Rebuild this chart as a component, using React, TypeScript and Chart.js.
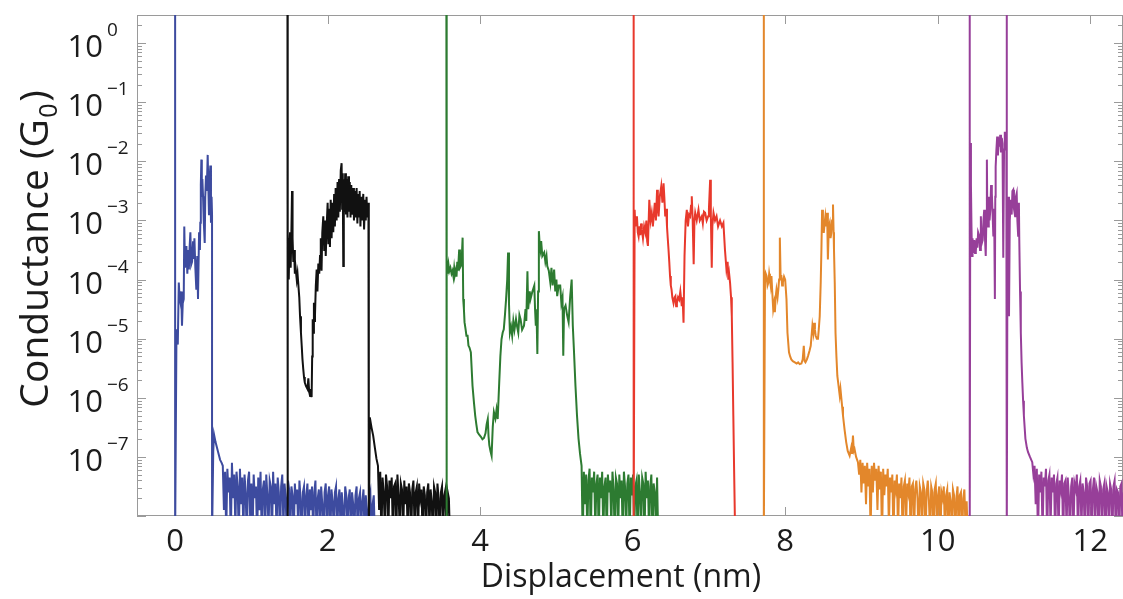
import React, { useEffect, useRef } from "react";
import { Chart, registerables } from "chart.js";

Chart.register(...registerables);

// ---------- axis settings ----------
const X_MIN = -0.5;
const X_MAX = 12.43;
const Y_MIN = 1e-8;
const Y_MAX = 3;
const xTickValues = [0, 2, 4, 6, 8, 10, 12];
const xTickLabels = ["0", "2", "4", "6", "8", "10", "12"];
const yTickExponents = [0, -1, -2, -3, -4, -5, -6, -7];
const xAxisTitle = "Displacement (nm)";
const yAxisTitleParts = ["Conductance (G", "0", ")"];

// ---------- traces: [displacement (nm), log10 conductance (G0)] ----------
const blueTrace: [number, number][] = [
  [0, 0.8], [0, -8.4], [0.017, -5.0], [0.026, -4.84], [0.035, -5.1], [0.048, -4.05], [0.058, -4.3], [0.07, -4.39],
  [0.08, -4.2], [0.09, -4.78], [0.1, -4.4], [0.113, -4.33], [0.12, -3.1], [0.13, -3.8], [0.148, -3.43], [0.16, -3.9],
  [0.17, -3.5], [0.18, -3.83], [0.19, -3.45], [0.2, -3.2], [0.21, -3.75], [0.222, -3.7], [0.235, -3.35], [0.245, -3.65],
  [0.253, -3.3], [0.265, -3.8], [0.278, -4.17], [0.29, -3.6], [0.3, -4.33], [0.314, -3.2], [0.325, -3.5], [0.33, -3.04],
  [0.337, -2.4], [0.344, -1.97], [0.35, -2.6], [0.357, -2.3], [0.366, -2.59], [0.375, -3.0], [0.388, -3.38], [0.395, -2.6],
  [0.405, -2.24], [0.415, -2.5], [0.427, -1.89], [0.435, -2.4], [0.444, -2.91], [0.452, -2.3], [0.462, -2.07], [0.47, -3.04],
  [0.478, -2.6], [0.484, -2.9], [0.484, -8.4], [0.5, -6.9], [0.51, -6.62], [0.53, -6.75], [0.56, -6.9], [0.59, -7.05],
  [0.61, -7.1],
];

const blackTrace: [number, number][] = [
  [1.473, 0.8], [1.473, -8.4], [1.48, -3.9], [1.486, -3.3], [1.49, -4.0], [1.497, -3.5], [1.507, -3.2], [1.515, -3.8],
  [1.522, -3.4], [1.533, -2.5], [1.54, -3.3], [1.55, -3.7], [1.56, -3.5], [1.57, -3.9], [1.58, -3.8], [1.595, -4.0],
  [1.605, -3.9], [1.617, -4.11], [1.628, -4.3], [1.638, -4.62], [1.65, -4.9], [1.66, -5.12], [1.67, -5.35], [1.68, -5.51],
  [1.69, -5.65], [1.7, -5.74], [1.715, -5.8], [1.735, -5.85], [1.747, -5.67], [1.758, -5.9], [1.77, -5.97], [1.78, -5.85],
  [1.79, -5.99], [1.797, -5.3], [1.804, -4.67], [1.812, -4.9], [1.82, -4.39], [1.827, -4.7], [1.834, -4.6], [1.845, -4.1],
  [1.856, -3.83], [1.866, -4.2], [1.878, -3.73], [1.89, -3.9], [1.9, -3.6], [1.91, -3.3], [1.92, -3.85], [1.93, -3.2],
  [1.943, -2.93], [1.955, -3.5], [1.965, -3.0], [1.975, -3.6], [1.987, -3.1], [2.0, -2.7], [2.01, -3.4], [2.02, -2.8],
  [2.03, -3.45], [2.04, -2.65], [2.052, -3.3], [2.064, -2.7], [2.074, -3.2], [2.085, -2.55], [2.095, -3.1], [2.105, -2.45],
  [2.118, -3.0], [2.13, -2.35], [2.14, -2.95], [2.15, -2.3], [2.16, -2.85], [2.172, -2.15], [2.183, -2.03], [2.19, -2.8],
  [2.198, -2.2], [2.205, -3.77], [2.212, -2.3], [2.22, -2.85], [2.23, -2.2], [2.24, -2.9], [2.25, -2.3], [2.26, -2.95],
  [2.27, -2.25], [2.28, -2.85], [2.29, -2.35], [2.3, -2.95], [2.31, -2.4], [2.32, -2.9], [2.336, -2.45], [2.345, -3.0],
  [2.355, -2.5], [2.365, -2.95], [2.38, -2.45], [2.39, -3.05], [2.4, -2.55], [2.41, -2.95], [2.42, -2.5], [2.43, -3.1],
  [2.44, -2.6], [2.455, -3.0], [2.467, -2.55], [2.478, -3.15], [2.49, -2.65], [2.5, -3.0], [2.51, -2.6], [2.52, -2.95],
  [2.535, -2.7], [2.54, -8.4], [2.553, -6.33], [2.575, -6.5], [2.597, -6.64], [2.62, -6.85], [2.64, -7.03], [2.66, -7.15],
];

const greenTrace: [number, number][] = [
  [3.557, 0.8], [3.557, -8.4], [3.565, -3.63], [3.573, -3.9], [3.585, -3.75], [3.595, -3.86], [3.61, -3.8], [3.625, -3.9],
  [3.638, -3.85], [3.65, -3.95], [3.66, -3.8], [3.67, -3.91], [3.68, -3.85], [3.69, -3.95], [3.7, -3.7], [3.71, -3.85],
  [3.725, -3.49], [3.735, -3.8], [3.747, -3.77], [3.76, -3.6], [3.77, -3.29], [3.778, -4.33], [3.787, -4.5], [3.795, -4.72],
  [3.81, -4.85], [3.82, -4.95], [3.835, -4.95], [3.847, -5.12], [3.86, -5.15], [3.878, -5.23], [3.9, -5.8], [3.92, -6.1],
  [3.935, -6.3], [3.95, -6.45], [3.965, -6.58], [3.985, -6.62], [4.01, -6.66], [4.03, -6.7], [4.05, -6.68], [4.07, -6.6],
  [4.085, -6.45], [4.1, -6.36], [4.11, -6.65], [4.12, -6.8], [4.135, -6.9], [4.15, -6.98], [4.165, -6.5], [4.18, -6.24],
  [4.2, -6.35], [4.215, -6.2], [4.23, -6.36], [4.25, -5.74], [4.265, -5.3], [4.28, -5.01], [4.295, -4.9], [4.31, -4.84],
  [4.325, -4.6], [4.34, -4.33], [4.355, -4.0], [4.366, -3.54], [4.378, -4.4], [4.39, -4.9], [4.405, -4.8], [4.42, -4.95],
  [4.435, -4.7], [4.45, -4.85], [4.47, -4.67], [4.485, -4.8], [4.5, -4.9], [4.515, -4.6], [4.53, -4.67], [4.55, -4.85],
  [4.575, -4.78], [4.595, -4.5], [4.605, -4.7], [4.62, -3.86], [4.63, -4.5], [4.64, -4.5], [4.65, -4.2], [4.66, -4.33],
  [4.685, -4.2], [4.71, -4.1], [4.72, -4.5], [4.73, -4.78], [4.74, -4.6], [4.75, -5.26], [4.76, -4.2], [4.77, -3.18],
  [4.78, -3.4], [4.79, -3.49], [4.8, -3.35], [4.815, -3.6], [4.84, -3.54], [4.855, -3.7], [4.87, -3.6], [4.88, -3.77],
  [4.9, -3.85], [4.92, -4.05], [4.935, -3.8], [4.95, -4.1], [4.97, -3.83], [4.985, -4.2], [5.0, -4.0], [5.01, -4.28],
  [5.03, -4.1], [5.05, -4.1], [5.065, -4.4], [5.08, -4.3], [5.09, -5.29], [5.1, -4.5], [5.12, -4.44], [5.14, -4.6],
  [5.16, -4.72], [5.18, -4.3], [5.2, -4.0], [5.215, -4.78], [5.23, -5.2], [5.25, -5.8], [5.27, -6.3], [5.29, -6.69],
  [5.31, -6.95], [5.33, -7.15],
];

const redTrace: [number, number][] = [
  [6.013, 0.8], [6.013, -8.4], [6.026, -2.82], [6.035, -3.1], [6.045, -3.0], [6.056, -2.93], [6.067, -3.2], [6.078, -3.27],
  [6.09, -3.1], [6.1, -3.25], [6.11, -3.05], [6.12, -3.15], [6.135, -3.3], [6.15, -3.1], [6.166, -3.2], [6.18, -3.0],
  [6.19, -3.35], [6.2, -3.43], [6.218, -2.65], [6.235, -3.0], [6.25, -2.87], [6.265, -3.1], [6.29, -2.7], [6.305, -3.0],
  [6.32, -2.48], [6.33, -2.8], [6.34, -2.93], [6.355, -2.6], [6.375, -2.42], [6.39, -2.7], [6.405, -2.37], [6.415, -2.6],
  [6.427, -2.93], [6.44, -2.8], [6.45, -3.1], [6.46, -3.3], [6.47, -3.49], [6.48, -3.7], [6.49, -3.94], [6.5, -4.1],
  [6.51, -4.17], [6.52, -4.3], [6.536, -4.4], [6.55, -4.3], [6.56, -4.28], [6.57, -4.45], [6.58, -4.4], [6.595, -4.3],
  [6.61, -4.34], [6.625, -4.2], [6.644, -4.45], [6.655, -4.3], [6.667, -4.73], [6.68, -3.6], [6.695, -3.0], [6.71, -2.82],
  [6.725, -3.1], [6.74, -2.9], [6.754, -2.93], [6.765, -2.75], [6.775, -2.59], [6.787, -3.0], [6.8, -3.74], [6.81, -3.0],
  [6.82, -2.87], [6.84, -3.0], [6.863, -2.82], [6.88, -3.0], [6.906, -2.93], [6.92, -3.05], [6.935, -2.85], [6.95, -2.87],
  [6.97, -3.0], [6.99, -2.93], [7.0, -2.8], [7.016, -2.31], [7.025, -2.9], [7.037, -3.8], [7.045, -3.1], [7.06, -2.87],
  [7.08, -3.0], [7.1, -2.93], [7.12, -3.1], [7.146, -3.0], [7.17, -3.1], [7.19, -3.04], [7.21, -3.49], [7.23, -3.83],
  [7.245, -3.7], [7.255, -4.0], [7.265, -3.9], [7.277, -4.05], [7.29, -4.3], [7.3, -4.62], [7.31, -5.4], [7.32, -6.3],
  [7.33, -7.2], [7.345, -8.4],
];

const orangeTrace: [number, number][] = [
  [7.72, 0.8], [7.72, -8.4], [7.735, -4.05], [7.745, -3.9], [7.756, -3.94], [7.768, -4.1], [7.78, -4.05], [7.79, -3.9],
  [7.8, -4.0], [7.81, -4.1], [7.82, -3.94], [7.83, -4.2], [7.843, -4.5], [7.855, -4.4], [7.865, -4.55], [7.875, -4.3],
  [7.886, -4.17], [7.9, -4.3], [7.91, -4.17], [7.92, -4.0], [7.93, -3.29], [7.94, -3.94], [7.95, -3.94], [7.96, -4.1],
  [7.97, -4.05], [7.985, -3.95], [8.0, -4.0], [8.017, -4.33], [8.03, -4.9], [8.05, -5.23], [8.065, -5.3], [8.08, -5.35],
  [8.1, -5.38], [8.127, -5.4], [8.15, -5.42], [8.17, -5.4], [8.19, -5.43], [8.213, -5.42], [8.23, -5.35], [8.244, -5.12],
  [8.255, -5.38], [8.266, -5.4], [8.285, -5.35], [8.3, -5.29], [8.32, -5.2], [8.335, -5.12], [8.357, -4.78], [8.37, -4.9],
  [8.38, -4.73], [8.39, -4.85], [8.4, -4.95], [8.415, -5.0], [8.43, -5.0], [8.44, -4.85], [8.453, -4.62], [8.466, -4.05],
  [8.475, -3.5], [8.484, -2.82], [8.495, -3.0], [8.506, -3.21], [8.517, -3.05], [8.527, -2.93], [8.54, -3.1], [8.55, -2.87],
  [8.56, -3.66], [8.572, -3.1], [8.584, -3.04], [8.595, -3.3], [8.605, -3.21], [8.615, -3.0], [8.627, -2.73], [8.635, -3.2],
  [8.64, -3.49], [8.65, -4.05], [8.66, -4.9], [8.672, -5.3], [8.684, -5.63], [8.7, -5.8], [8.715, -5.96], [8.725, -5.85],
  [8.736, -6.0], [8.747, -6.15], [8.758, -6.3], [8.78, -6.55], [8.8, -6.75], [8.82, -6.9], [8.845, -6.98], [8.865, -6.85],
  [8.875, -6.95], [8.889, -6.64], [8.9, -6.9], [8.91, -6.87], [8.93, -7.0], [8.954, -7.09],
];

const purpleTrace: [number, number][] = [
  [10.42, 0.8], [10.42, -8.4], [10.428, -1.69], [10.436, -2.4], [10.443, -3.1], [10.45, -3.6], [10.457, -3.3], [10.465, -3.55],
  [10.48, -3.33], [10.49, -3.55], [10.5, -3.52], [10.51, -3.3], [10.52, -3.46], [10.53, -3.2], [10.545, -3.26], [10.555, -3.5],
  [10.566, -2.93], [10.575, -3.4], [10.59, -3.33], [10.6, -3.0], [10.61, -2.82], [10.62, -3.3], [10.63, -3.6], [10.638, -3.0],
  [10.645, -1.97], [10.652, -3.1], [10.66, -3.1], [10.67, -2.6], [10.68, -3.0], [10.69, -2.82], [10.7, -2.4], [10.71, -2.54],
  [10.72, -2.9], [10.73, -3.27], [10.74, -2.8], [10.75, -4.33], [10.755, -2.6], [10.76, -2.09], [10.77, -1.8], [10.78, -1.58],
  [10.79, -1.9], [10.8, -1.6], [10.81, -1.75], [10.82, -1.55], [10.83, -1.85], [10.84, -1.6], [10.85, -1.7], [10.86, -3.63],
  [10.87, -1.8], [10.88, -1.5], [10.89, -1.6], [10.9, -1.5], [10.906, 0.8], [10.906, -8.4], [10.915, -3.26], [10.925, -2.6],
  [10.935, -4.62], [10.945, -3.0], [10.96, -2.65], [10.97, -2.9], [10.98, -2.5], [10.99, -2.48], [11.0, -2.8], [11.015, -2.93],
  [11.025, -2.6], [11.036, -2.54], [11.045, -3.0], [11.055, -3.26], [11.065, -2.7], [11.07, -3.33], [11.08, -4.2], [11.09, -4.9],
  [11.1, -5.4], [11.11, -5.74], [11.12, -6.05], [11.13, -6.3], [11.15, -6.69], [11.17, -6.85], [11.185, -6.92], [11.21, -7.0],
  [11.24, -7.09],
];

// ---------- baseline noise tails: log10 conductance, sampled every NOISE_STEP nm from the given start ----------
const NOISE_STEP = 0.015;
const blueNoiseStart = 0.625;
const blueNoise = [
  -7.15, -7.9, -7.25, -8.3, -7.2, -7.6, -7.35, -8.4, -7.1, -7.7, -7.3, -8.2, -7.25, -7.5, -8.4, -7.2, -7.8, -7.35, -8.3,
  -7.3, -7.6, -8.4, -7.4, -7.25, -8.1, -7.45, -8.4, -7.3, -7.7, -7.5, -8.4, -7.35, -7.9, -7.25, -8.3, -7.55, -7.4, -8.4, -7.3,
  -7.65, -8.2, -7.4, -7.5, -8.4, -7.25, -7.8, -7.45, -8.3, -7.35, -7.6, -8.4, -7.5, -7.3, -8.2, -7.45, -7.7, -8.4, -7.4, -7.55,
  -8.3, -7.5, -7.65, -8.4, -7.45, -7.8, -7.55, -8.3, -7.4, -7.7, -8.4, -7.6, -7.5, -8.2, -7.65, -7.45, -8.4, -7.55, -7.9, -7.5,
  -8.3, -7.6, -7.4, -8.4, -7.7, -7.55, -8.2, -7.5, -7.8, -8.4, -7.6, -7.45, -8.3, -7.65, -7.5, -8.4, -7.55, -7.75, -8.2, -7.6,
  -7.5, -8.4, -7.7, -7.55, -8.3, -7.6, -7.85, -8.4, -7.5, -7.65, -8.2, -7.7, -7.55, -8.4, -7.6, -7.8, -8.3, -7.65, -7.5, -8.4,
  -7.7, -7.6, -8.2, -7.75, -7.55, -8.4, -7.65, -7.9, -8.3, -7.7, -7.6, -8.4, -7.8, -7.65, -8.4,
];
const blackNoiseStart = 2.675;
const blackNoise = [
  -7.9, -7.25, -8.4, -7.35, -7.6, -8.2, -7.3, -7.5, -8.4, -7.4, -7.7, -7.35, -8.3, -7.5, -7.45, -8.4, -7.3, -7.65, -8.2,
  -7.45, -7.55, -8.4, -7.4, -7.8, -7.5, -8.3, -7.45, -7.6, -8.4, -7.55, -7.4, -8.2, -7.6, -7.5, -8.4, -7.45, -7.7, -7.55,
  -8.3, -7.5, -7.65, -8.4, -7.6, -7.45, -8.2, -7.55, -7.75, -8.4, -7.5, -7.6, -8.3, -7.45, -7.7, -8.4, -7.6, -7.5, -8.2,
  -7.65, -7.55, -8.4, -7.6, -7.7, -8.4,
];
const greenNoiseStart = 5.345;
const greenNoise = [
  -8.4, -7.25, -7.8, -7.3, -8.3, -7.4, -7.2, -8.4, -7.35, -7.6, -7.25, -8.2, -7.45, -7.3, -8.4, -7.35, -7.7, -7.25, -8.3,
  -7.5, -7.35, -8.4, -7.3, -7.6, -7.4, -8.2, -7.25, -7.55, -8.4, -7.35, -7.45, -8.3, -7.3, -7.7, -7.4, -8.4, -7.25, -7.5,
  -8.2, -7.45, -7.3, -8.4, -7.35, -7.65, -7.3, -8.3, -7.5, -7.4, -8.4, -7.3, -7.6, -8.2, -7.35, -7.45, -8.4, -7.25, -7.7,
  -7.4, -8.3, -7.5, -7.3, -8.4, -7.45, -7.6, -8.2, -7.35, -8.4,
];
const orangeNoiseStart = 8.97;
const orangeNoise = [
  -7.3, -7.05, -7.6, -7.1, -7.45, -7.15, -7.8, -7.1, -7.5, -7.2, -8.3, -7.15, -7.6, -7.1, -7.4, -7.2, -7.9, -7.15, -7.55,
  -7.25, -8.4, -7.2, -7.65, -7.3, -7.5, -7.2, -8.2, -7.35, -7.6, -7.3, -8.4, -7.4, -7.55, -7.3, -8.3, -7.45, -7.7, -7.35,
  -8.4, -7.5, -7.4, -8.2, -7.45, -7.6, -7.35, -8.4, -7.5, -7.45, -8.3, -7.55, -7.4, -7.7, -8.4, -7.5, -7.6, -8.2, -7.45,
  -7.55, -8.4, -7.6, -7.4, -7.75, -8.3, -7.5, -7.6, -8.4, -7.55, -7.45, -8.2, -7.65, -7.5, -8.4, -7.6, -7.7, -7.5, -8.3,
  -7.65, -7.55, -8.4, -7.6, -7.75, -8.2, -7.55, -7.65, -8.4, -7.7, -7.5, -8.3, -7.65, -7.6, -8.4, -7.7, -7.55, -8.2, -7.75,
  -8.4,
];
const purpleNoiseStart = 11.255;
const purpleNoise = [
  -7.3, -7.15, -7.8, -7.2, -8.4, -7.3, -7.6, -7.25, -8.3, -7.35, -7.5, -7.2, -8.4, -7.4, -7.3, -8.2, -7.35, -7.6, -7.3,
  -8.4, -7.45, -7.35, -8.3, -7.4, -7.55, -7.3, -8.4, -7.45, -7.4, -8.2, -7.35, -7.65, -8.4, -7.5, -7.35, -8.3, -7.45, -7.55,
  -7.3, -8.4, -7.5, -7.4, -8.2, -7.45, -7.6, -8.4, -7.35, -7.5, -8.3, -7.45, -7.4, -8.4, -7.55, -7.35, -8.2, -7.5, -7.6,
  -8.4, -7.4, -7.5, -8.3, -7.55, -7.45, -8.4, -7.5, -7.6, -8.2, -7.45, -7.55, -8.4, -7.5, -7.4, -8.3, -7.55, -7.6, -8.4,
  -7.5, -7.45, -8.4, -7.6,
];

const traceColors = ["#3d4b9f", "#111111", "#2d7b31", "#e8392c", "#e3872b", "#973f99"];
const traceNames = ["Trace 1", "Trace 2", "Trace 3", "Trace 4", "Trace 5", "Trace 6"];
const traceBodies = [blueTrace, blackTrace, greenTrace, redTrace, orangeTrace, purpleTrace];
const traceNoiseStarts = [blueNoiseStart, blackNoiseStart, greenNoiseStart, null, orangeNoiseStart, purpleNoiseStart];
const traceNoises = [blueNoise, blackNoise, greenNoise, [], orangeNoise, purpleNoise];

const FONT = "'Open Sans', 'Noto Sans', sans-serif";
const TEXT_COLOR = "#1c1c1c";
const AXIS_COLOR = "#9a9a9a";

const axesPlugin = {
  id: "matlabAxes",
  beforeDatasetsDraw(chart: any) {
    const ctx = chart.ctx;
    const { left, right, top, bottom } = chart.chartArea;
    const xs = chart.scales.x;
    const ys = chart.scales.y;
    ctx.save();
    ctx.strokeStyle = AXIS_COLOR;
    ctx.lineWidth = 1;
    ctx.strokeRect(left + 0.5, top + 0.5, right - left - 1, bottom - top - 1);
    ctx.beginPath();
    xTickValues.forEach((v) => {
      const px = Math.round(xs.getPixelForValue(v)) + 0.5;
      ctx.moveTo(px, bottom);
      ctx.lineTo(px, bottom - 9);
      ctx.moveTo(px, top);
      ctx.lineTo(px, top + 9);
    });
    for (let e = -8; e <= 0; e++) {
      for (let k = 1; k <= 9; k++) {
        const v = k * Math.pow(10, e);
        if (v < Y_MIN || v > Y_MAX) continue;
        const py = Math.round(ys.getPixelForValue(v)) + 0.5;
        const len = k === 1 ? 9 : 5;
        ctx.moveTo(left, py);
        ctx.lineTo(left + len, py);
        ctx.moveTo(right, py);
        ctx.lineTo(right - len, py);
      }
    }
    ctx.stroke();
    ctx.restore();
  },
  afterDraw(chart: any) {
    const ctx = chart.ctx;
    const { left, bottom } = chart.chartArea;
    const xs = chart.scales.x;
    const ys = chart.scales.y;
    ctx.save();
    ctx.fillStyle = TEXT_COLOR;
    ctx.font = `31px ${FONT}`;
    ctx.textAlign = "center";
    ctx.textBaseline = "alphabetic";
    xTickValues.forEach((v, i) => {
      ctx.fillText(xTickLabels[i], xs.getPixelForValue(v), bottom + 35);
    });
    yTickExponents.forEach((e) => {
      const py = ys.getPixelForValue(Math.pow(10, e));
      ctx.font = `31px ${FONT}`;
      ctx.textAlign = "right";
      ctx.fillText("10", left - 34, py + 14);
      ctx.font = `19px ${FONT}`;
      ctx.textAlign = "left";
      const expText = e === 0 ? "0" : "\u2212" + String(-e);
      ctx.fillText(expText, left - 30, py - 7);
    });
    ctx.font = `32px ${FONT}`;
    ctx.textAlign = "center";
    ctx.fillText(xAxisTitle, left + 484, bottom + 71);
    // y axis title (rotated, with subscript)
    ctx.translate(48, 249);
    ctx.rotate(-Math.PI / 2);
    ctx.textAlign = "left";
    const mainFont = `39px ${FONT}`;
    const subFont = `25px ${FONT}`;
    ctx.font = mainFont;
    const w0 = ctx.measureText(yAxisTitleParts[0]).width;
    const w2 = ctx.measureText(yAxisTitleParts[2]).width;
    ctx.font = subFont;
    const w1 = ctx.measureText(yAxisTitleParts[1]).width + 3;
    let x = -(w0 + w1 + w2) / 2;
    ctx.font = mainFont;
    ctx.fillText(yAxisTitleParts[0], x, 0);
    x += w0;
    ctx.font = subFont;
    ctx.fillText(yAxisTitleParts[1], x + 1.5, 9);
    x += w1;
    ctx.font = mainFont;
    ctx.fillText(yAxisTitleParts[2], x, 0);
    ctx.restore();
  },
};

export default function App() {
  const canvasRef = useRef<HTMLCanvasElement | null>(null);

  useEffect(() => {
    if (!canvasRef.current) return;
    const datasets = traceBodies.map((body, i) => {
      const start = traceNoiseStarts[i];
      const noisePts = start === null ? [] : traceNoises[i].map((lg, j) => ({ x: start + j * NOISE_STEP, y: Math.pow(10, lg) }));
      return {
        label: traceNames[i],
        data: body.map(([x, lg]) => ({ x, y: Math.pow(10, lg) })).concat(noisePts),
        borderColor: traceColors[i],
        backgroundColor: traceColors[i],
        borderWidth: 2,
        pointRadius: 0,
        tension: 0,
        fill: false,
        order: 6 - i,
      };
    });
    const chart = new Chart(canvasRef.current, {
      type: "line",
      data: { datasets },
      options: {
        animation: false,
        responsive: false,
        maintainAspectRatio: false,
        layout: { padding: { left: 137, top: 15, right: -4, bottom: 83 } },
        plugins: { legend: { display: false }, tooltip: { enabled: false } },
        scales: {
          x: { type: "linear", min: X_MIN, max: X_MAX, display: false },
          y: { type: "logarithmic", min: Y_MIN, max: Y_MAX, display: false },
        },
      },
      plugins: [axesPlugin],
    });
    return () => chart.destroy();
  }, []);

  return (
    <div style={{ position: "fixed", left: 0, top: 0, width: 1123, height: 599, background: "#fff" }}>
      <canvas ref={canvasRef} width={1123} height={599} style={{ display: "block" }} />
    </div>
  );
}
